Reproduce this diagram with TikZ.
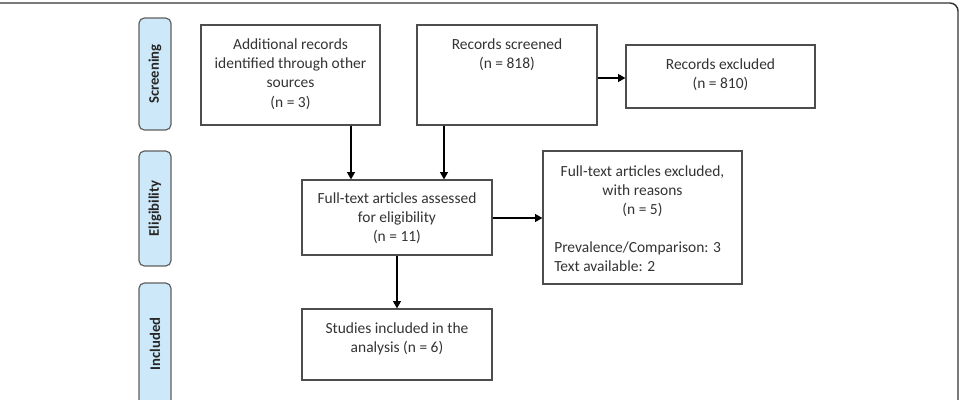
\documentclass[tikz,border=0pt]{standalone}
\usepackage{fontspec}
\setmainfont{Carlito}
\usetikzlibrary{arrows.meta}
\definecolor{tabfill}{HTML}{CDE9F9}
\definecolor{boxline}{HTML}{4D4D4D}
\definecolor{txt}{HTML}{333333}
\definecolor{frameline}{HTML}{333333}
\begin{document}
\begin{tikzpicture}[x=0.75pt,y=-0.75pt,
  box/.style={draw=boxline,line width=0.9pt,inner sep=0pt,anchor=center},
  lbl/.style={text=txt,align=center,inner sep=0pt,font=\fontsize{11.6}{14.4}\selectfont},
  tabbox/.style={draw=boxline!90,fill=tabfill,line width=0.9pt,rounded corners=4pt,inner sep=0pt},
  tabtxt/.style={rotate=90,text=black!85,font=\fontsize{11}{13}\selectfont\bfseries,inner sep=0pt},
  arr/.style={line width=0.9pt,black,-{Triangle[width=6pt,length=5.5pt]}}]
\useasboundingbox (0,0) rectangle (961,400);
\begin{scope}
\clip (0,0) rectangle (961,400);
\draw[frameline,line width=1.1pt,rounded corners=6pt] (-30,3) rectangle (958,440) coordinate (frameEnd);
% tabs
\draw[tabbox] (139,18) rectangle (171,130) coordinate (tabS);
\draw[tabbox] (139,151) rectangle (171,266) coordinate (tabE);
\draw[tabbox] (139,283) rectangle (171,420) coordinate (tabI);
\end{scope}
\node[tabtxt] (tS) at (155,74) {Screening};
\node[tabtxt] (tE) at (155,208.5) {Eligibility};
\node[tabtxt] (tI) at (155,344) {Included};
% boxes
\node[box,minimum width=179*0.75pt,minimum height=100*0.75pt] (A) at (290.5,75) {};
\node[lbl] (At) at (290.5,74) {Additional records\\identified through other\\sources\\(n = 3)};
\node[box,minimum width=180*0.75pt,minimum height=100*0.75pt] (B) at (507,75) {};
\node[lbl] (Bt) at (507,55) {Records screened\\(n = 818)};
\node[box,minimum width=189*0.75pt,minimum height=63*0.75pt] (C) at (720.5,76.5) {};
\node[lbl] (Ct) at (720.5,74.5) {Records excluded\\(n = 810)};
\node[box,minimum width=190*0.75pt,minimum height=75*0.75pt] (D) at (397,217.5) {};
\node[lbl] (Dt) at (397,218) {Full-text articles assessed\\for eligibility\\(n = 11)};
\node[box,minimum width=199*0.75pt,minimum height=133*0.75pt] (E) at (642.5,217.5) {};
\node[lbl] (Et) at (642.5,191) {Full-text articles excluded,\\with reasons\\(n = 5)};
\node[lbl,align=left,anchor=west] (Et2) at (554,256.5) {Prevalence/Comparison: 3\\Text available: 2};
\node[box,minimum width=190*0.75pt,minimum height=71*0.75pt] (F) at (397,344.5) {};
\node[lbl] (Ft) at (397,339) {Studies included in the\\analysis (n = 6)};
% arrows
\draw[arr] (A.south -| 351,0) -- (D.north -| 351,0);
\draw[arr] (B.south -| 444,0) -- (D.north -| 444,0);
\draw[arr] (B.east |- 0,78) -- (C.west |- 0,78);
\draw[arr] (D.east |- 0,218) -- (E.west |- 0,218);
\draw[arr] (D.south) -- (F.north);
\end{tikzpicture}
\end{document}
